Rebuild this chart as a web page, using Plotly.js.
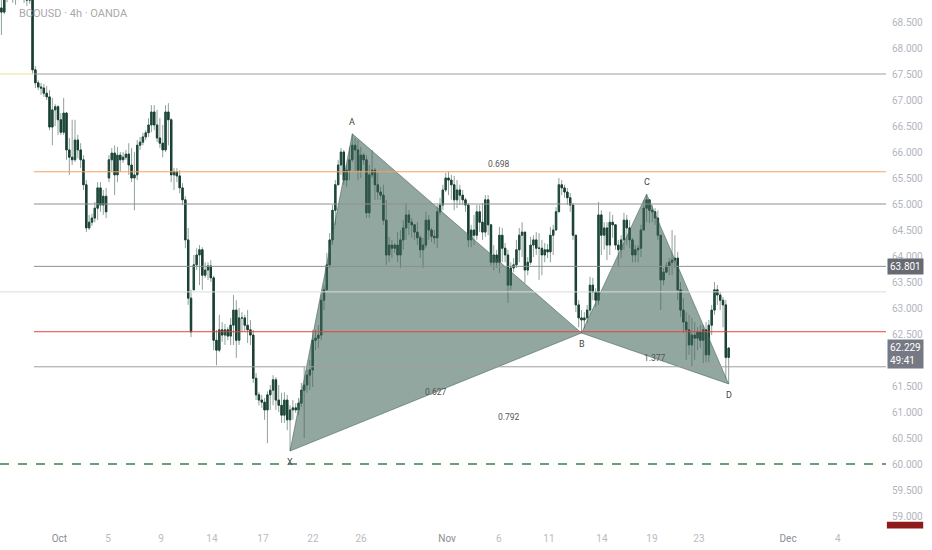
<!DOCTYPE html>
<html>
<head>
<meta charset="utf-8">
<script src="https://cdn.plot.ly/plotly-3.0.1.min.js"></script>
<style>html,body{margin:0;padding:0;background:#fff;}#chart{width:932px;height:550px;}</style>
</head>
<body>
<div id="chart"></div>
<script>
// ---- candle data (BCOUSD 4h), bar index = position on the time axis ----
const opens = [68.77,68.69,68.96,69.08,69.15,69.02,68.96,69.08,69.12,69.00,68.92,
69.02,67.58,67.33,67.25,67.23,67.13,67.06,66.48,66.81,66.87,
66.62,66.38,66.75,66.04,65.90,65.85,66.23,66.04,65.85,65.37,
64.54,64.65,64.73,64.92,65.31,64.98,65.15,65.50,65.85,65.98,
65.56,65.94,65.85,65.90,65.96,65.75,65.50,65.56,66.13,66.19,
66.29,66.37,66.52,66.77,66.52,66.27,66.17,66.04,66.77,66.62,
65.56,65.62,65.54,65.31,65.08,64.31,63.19,63.35,63.83,64.02,
64.12,63.63,63.73,63.81,63.58,62.38,62.19,62.58,62.48,62.58,
62.46,62.67,62.96,62.38,62.81,62.81,62.67,62.58,62.48,61.65,
61.33,61.23,61.19,61.04,61.33,61.42,61.62,61.23,61.13,60.94,
61.23,60.85,61.04,61.08,61.04,61.17,61.42,61.52,61.71,61.81,
62.38,62.42,62.48,63.15,63.35,63.83,64.31,64.88,65.37,65.75,
66.00,65.46,65.65,65.85,66.13,66.04,65.65,65.94,65.85,64.83,
65.56,65.65,65.37,65.23,65.17,64.69,64.02,64.21,64.15,64.21,
64.02,64.31,64.54,64.79,64.65,64.60,64.46,64.35,64.12,64.21,
64.69,64.50,64.38,64.35,64.85,64.98,65.27,65.50,65.46,65.37,
65.08,65.27,65.17,65.08,64.98,64.31,64.50,64.40,64.85,64.65,
64.46,65.08,64.60,63.88,64.02,63.88,64.40,64.15,64.02,63.44,
63.77,63.83,64.12,64.40,64.46,63.73,63.88,64.21,64.31,64.15,
64.15,64.02,64.12,64.08,64.40,64.50,64.85,65.37,65.31,65.23,
65.12,64.98,64.40,63.06,62.81,62.77,62.81,62.96,63.44,63.31,
63.15,64.79,64.40,64.54,64.21,64.65,64.60,64.21,64.12,64.31,
64.69,64.54,64.31,64.02,64.12,64.15,64.50,64.92,65.08,64.88,
64.85,64.73,64.40,63.54,63.69,63.81,63.88,63.92,63.96,63.35,
62.96,62.73,62.58,62.29,62.48,62.42,62.54,62.38,62.58,62.10,
62.67,62.96,63.35,63.25,63.15,63.06,62.05];
const highs = [69.02,69.02,69.21,69.31,69.27,69.12,69.21,69.31,69.19,69.12,69.15,
69.08,67.65,67.38,67.33,67.31,67.27,67.19,67.04,66.92,66.90,
66.75,67.04,66.77,66.27,66.62,66.62,66.33,66.17,65.94,65.46,
64.79,64.81,65.04,65.42,65.42,65.27,65.31,65.94,66.08,66.13,
66.10,66.00,66.00,66.04,66.17,66.08,66.00,66.23,66.29,66.37,
66.42,66.65,66.90,66.90,66.81,66.65,66.52,66.90,66.94,66.65,
65.69,65.69,65.65,65.40,65.15,64.54,63.35,64.02,64.15,64.21,
64.17,63.88,63.88,63.92,63.62,62.58,62.87,62.73,62.69,62.63,
62.81,63.25,63.15,63.00,62.92,62.87,62.96,62.77,62.58,61.75,
61.38,61.33,61.27,61.40,61.52,61.71,61.67,61.52,61.37,61.38,
61.33,61.13,61.23,61.17,61.27,61.56,61.87,61.81,62.00,62.58,
62.58,62.67,63.25,63.44,64.06,64.44,64.98,65.46,65.85,66.08,
66.04,65.75,66.10,66.35,66.27,66.23,66.10,65.98,65.94,65.75,
66.04,65.69,65.60,65.33,65.37,65.08,64.37,64.31,64.25,64.46,
64.50,64.69,65.02,64.88,64.73,64.60,64.65,64.40,64.35,64.85,
64.79,64.54,64.50,64.98,65.12,65.37,65.60,65.62,65.56,65.54,
65.46,65.37,65.27,65.12,65.02,64.60,64.79,64.98,64.98,65.02,
65.17,65.17,64.60,64.21,64.12,64.56,64.54,64.25,64.12,63.88,
63.96,64.31,64.54,64.65,64.46,63.98,64.37,64.40,64.46,64.44,
64.31,64.25,64.23,64.56,64.60,64.94,65.50,65.46,65.37,65.31,
65.21,65.02,64.40,63.15,62.96,62.92,63.06,63.60,63.58,63.38,
65.04,64.88,64.65,64.65,64.85,64.79,64.60,64.31,64.40,64.83,
64.79,64.69,64.35,64.21,64.21,64.60,65.08,65.19,65.08,64.98,
64.92,64.88,64.40,63.77,63.88,63.96,64.50,64.40,64.08,63.50,
63.19,62.92,62.87,62.81,62.73,62.63,62.67,62.67,62.73,62.77,
63.06,63.50,63.44,63.31,63.21,63.15,62.25];
const lows = [68.25,68.65,68.88,68.98,68.87,68.83,68.92,69.00,68.87,68.81,68.85,
67.48,67.23,67.19,67.10,67.06,67.00,66.42,66.13,66.50,66.33,
66.33,66.33,65.85,65.56,65.75,65.81,65.88,65.69,65.27,64.46,
64.50,64.58,64.65,64.69,64.85,64.79,64.73,65.42,65.62,65.17,
65.42,65.62,65.79,65.85,65.56,65.42,64.88,65.46,66.04,66.13,
66.23,66.29,66.38,66.42,66.19,66.08,65.90,66.00,66.13,65.42,
65.27,65.42,65.21,64.98,64.15,63.06,62.44,63.35,63.73,63.44,
63.35,63.58,63.54,63.50,62.19,61.90,62.15,62.35,62.29,62.38,
62.29,62.29,62.04,62.29,62.54,62.54,62.33,62.29,61.56,61.23,
61.13,61.08,60.85,60.40,61.04,61.13,61.04,61.00,60.79,60.79,
60.65,60.25,60.85,60.98,60.94,61.10,60.50,61.37,61.42,61.48,
62.19,62.23,62.38,62.96,63.35,63.77,64.21,64.60,65.37,65.56,
65.37,65.33,65.46,65.81,65.62,65.46,65.50,65.75,64.73,64.73,
65.50,65.08,65.08,65.08,64.60,63.83,63.88,63.96,64.06,63.88,
63.77,64.12,64.31,64.40,64.35,64.31,64.21,63.96,63.77,64.15,
64.31,64.27,64.23,64.15,64.79,64.88,65.23,65.17,65.08,64.88,
64.92,64.98,64.98,64.85,64.17,64.17,64.21,64.31,64.46,64.31,
64.37,64.40,63.79,63.73,63.77,63.67,63.88,63.88,63.10,63.35,
63.69,63.77,63.88,63.98,63.48,63.63,63.83,63.98,64.02,63.54,
63.63,63.88,63.96,63.88,64.02,64.50,64.85,65.17,65.12,64.98,
64.85,64.31,62.92,62.63,62.52,62.61,62.71,62.87,63.15,63.02,
63.06,64.02,64.12,63.92,64.02,64.35,64.12,63.79,63.96,64.12,
64.21,64.15,63.88,63.88,63.88,63.98,64.50,64.65,64.63,64.65,
64.60,64.31,62.96,63.44,63.69,63.63,63.63,63.77,63.15,62.83,
62.52,62.00,62.10,61.87,62.00,62.19,62.23,61.94,61.96,61.96,
62.48,62.87,63.06,62.96,62.63,61.65,61.54];
const closes = [68.69,68.96,69.08,69.15,69.02,68.96,69.08,69.12,69.00,68.92,69.02,
67.58,67.33,67.25,67.23,67.13,67.06,66.48,66.81,66.87,66.62,
66.38,66.75,66.04,65.90,65.85,66.23,66.04,65.85,65.37,64.54,
64.65,64.73,64.92,65.31,64.98,65.15,64.85,65.85,65.98,65.56,
65.94,65.85,65.90,65.96,65.75,65.50,65.56,66.13,66.19,66.29,
66.37,66.52,66.77,66.52,66.27,66.17,66.04,66.77,66.62,65.56,
65.62,65.54,65.31,65.08,64.31,63.19,62.54,63.83,64.02,64.12,
63.63,63.73,63.81,63.58,62.38,62.19,62.58,62.48,62.58,62.46,
62.67,62.96,62.38,62.81,62.81,62.67,62.58,62.48,61.65,61.33,
61.23,61.19,61.04,61.33,61.42,61.62,61.23,61.13,60.94,61.23,
60.85,61.04,61.08,61.04,61.17,61.42,61.52,61.71,61.81,62.38,
62.42,62.48,63.15,63.35,63.83,64.31,64.88,65.37,65.75,66.00,
65.46,65.65,65.85,66.13,66.04,65.65,65.94,65.85,64.83,65.56,
65.65,65.37,65.23,65.17,64.69,64.02,64.21,64.15,64.21,64.02,
64.31,64.54,64.79,64.65,64.60,64.46,64.35,64.12,64.21,64.69,
64.50,64.38,64.35,64.85,64.98,65.27,65.50,65.46,65.37,65.08,
65.27,65.17,65.08,64.98,64.31,64.50,64.40,64.85,64.65,64.46,
65.08,64.60,63.88,64.02,63.88,64.40,64.15,64.02,63.44,63.77,
63.83,64.12,64.40,64.46,63.73,63.88,64.21,64.31,64.15,64.15,
64.02,64.12,64.08,64.40,64.50,64.85,65.37,65.31,65.23,65.12,
64.98,64.40,63.06,62.81,62.77,62.81,62.96,63.44,63.31,63.15,
64.79,64.40,64.54,64.21,64.65,64.60,64.21,64.12,64.31,64.69,
64.54,64.31,64.02,64.12,64.15,64.50,64.92,65.08,64.88,64.85,
64.73,64.40,63.54,63.69,63.81,63.88,63.92,63.96,63.35,62.96,
62.73,62.58,62.29,62.48,62.42,62.54,62.38,62.58,62.10,62.67,
62.96,63.35,63.25,63.15,63.06,62.05,62.229];

// ---- time axis ticks (bar positions) ----
const tickPos = [20.5,37.7,56.4,74.4,92.4,110.1,127.1,157.5,175.8,193.5,212.2,229.9,246.5,278.0,295.6];
const tickLabels = ["Oct","5","9","14","17","22","26","Nov","6","11","14","19","23","Dec","4"];
const monthLabels = ["Oct","Nov","Dec"];

// ---- price axis ticks (62.000 is hidden behind the last-price label) ----
const priceTicks = [59.0,59.5,60.0,60.5,61.0,61.5,62.5,63.0,63.5,64.0,64.5,65.0,65.5,66.0,66.5,67.0,67.5,68.0,68.5];

// ---- XABCD harmonic pattern ----
const patternNames = ["X","A","B","C","D"];
const patternBar = [102,124,205,228,257];
const patternPrice = [60.25,66.35,62.52,65.19,61.54];
const ratioText = ["0.627","0.698","1.377","0.792"];
const ratioPairs = [[0,2],[1,3],[2,4],[0,4]];

// ---- horizontal levels ----
const levelPrices = [67.5,65.62,65.0,63.801,62.544,61.87];
const levelColors = ["#9e9e9e","#f5a25d","#8f8f8f","#8f8f8f","#e8423f","#9e9e9e"];
const levelStartBar = 11.5;
const fullLinePrice = 63.31;
const supportPrice = 60.0;
const lastPrice = 62.229;
const countdown = "49:41";
const markedPrice = 63.801;

const xs = closes.map((_, i) => i);
const xMax = 312.6;

const wickTrace = {
  type: "candlestick", x: xs, open: opens, high: highs, low: lows, close: closes,
  increasing: {line: {color: "#8fa19b", width: 1}, fillcolor: "#8fa19b"},
  decreasing: {line: {color: "#8fa19b", width: 1}, fillcolor: "#8fa19b"},
  hoverinfo: "skip", showlegend: false
};
const bodyTrace = {
  type: "candlestick", x: xs, open: opens, close: closes,
  high: opens.map((o, i) => Math.max(o, closes[i])),
  low: opens.map((o, i) => Math.min(o, closes[i])),
  increasing: {line: {color: "#1e4a3c", width: 1}, fillcolor: "#1e4a3c"},
  decreasing: {line: {color: "#183f33", width: 1}, fillcolor: "#183f33"},
  hoverinfo: "skip", showlegend: false
};

function tri(a, b, c) {
  return {
    type: "scatter", mode: "lines",
    x: [patternBar[a], patternBar[b], patternBar[c], patternBar[a]],
    y: [patternPrice[a], patternPrice[b], patternPrice[c], patternPrice[a]],
    fill: "toself", fillcolor: "rgba(62,98,88,0.56)",
    line: {color: "rgba(62,98,88,0.7)", width: 0.8},
    hoverinfo: "skip", showlegend: false
  };
}

const shapes = [];
levelPrices.forEach((p, i) => {
  shapes.push({type: "line", xref: "x", yref: "y", x0: levelStartBar, x1: xMax, y0: p, y1: p,
    line: {color: levelColors[i], width: 1}});
});
shapes.push({type: "line", xref: "x", yref: "y", x0: -0.5, x1: levelStartBar, y0: levelPrices[0], y1: levelPrices[0],
  line: {color: "#f2edb5", width: 1.5}});
shapes.push({type: "line", xref: "x", yref: "y", x0: -0.5, x1: xMax, y0: fullLinePrice, y1: fullLinePrice,
  line: {color: "#dcdcdc", width: 1}});
shapes.push({type: "line", xref: "x", yref: "y", x0: -0.5, x1: xMax, y0: supportPrice, y1: supportPrice,
  line: {color: "#3c7d45", width: 1.5, dash: "dash"}});
shapes.push({type: "rect", xref: "paper", yref: "paper", x0: 1.001, x1: 1.042, y0: -0.001, y1: 0.012,
  fillcolor: "#8e1b1b", line: {width: 0}});

const annotations = [];
annotations.push({xref: "paper", yref: "paper", x: 0.019, y: 0.9735, xanchor: "left", yanchor: "middle",
  text: "BCOUSD · 4h · OANDA", showarrow: false, font: {family: "Roboto", size: 11, color: "#a9a9a9"}});
patternNames.forEach((n, i) => {
  annotations.push({x: patternBar[i], y: patternPrice[i], text: n, showarrow: false,
    yshift: (i % 2 === 0) ? -11 : 12, font: {family: "Roboto", size: 9, color: "#444"}});
});
ratioText.forEach((t, k) => {
  const [a, b] = ratioPairs[k];
  annotations.push({x: (patternBar[a] + patternBar[b]) / 2, y: (patternPrice[a] + patternPrice[b]) / 2,
    text: t, showarrow: false, font: {family: "Roboto", size: 8.5, color: "#555"}});
});
annotations.push({xref: "paper", yref: "y", x: 1.001, y: markedPrice, xanchor: "left", yanchor: "middle",
  text: markedPrice.toFixed(3), showarrow: false, bgcolor: "#676a73", borderpad: 2,
  font: {family: "Roboto", size: 10, color: "#ffffff"}});
annotations.push({xref: "paper", yref: "y", x: 1.001, y: lastPrice, xanchor: "left", yanchor: "top", yshift: 9,
  text: lastPrice.toFixed(3) + "<br>" + countdown, showarrow: false, bgcolor: "#767983", borderpad: 2, align: "left",
  font: {family: "Roboto", size: 10, color: "#ffffff"}});

const ticktext = tickLabels.map(t => monthLabels.includes(t) ? '<span style="color:#8a8d96">' + t + '</span>' : t);

const layout = {
  width: 932, height: 550,
  margin: {l: 0, r: 46, t: 0, b: 22, pad: 0},
  paper_bgcolor: "#ffffff", plot_bgcolor: "#ffffff",
  font: {family: "Roboto", size: 10, color: "#b2b5be"},
  showlegend: false,
  xaxis: {range: [-0.5, xMax], showgrid: false, zeroline: false, showline: false,
    tickmode: "array", tickvals: tickPos, ticktext: ticktext, ticks: "", ticklabelstandoff: 3,
    tickfont: {family: "Roboto", size: 10, color: "#b8bbc2"}, rangeslider: {visible: false}, fixedrange: true},
  yaxis: {side: "right", range: [58.77, 68.923], showgrid: false, zeroline: false, showline: false,
    tickmode: "array", tickvals: priceTicks, ticktext: priceTicks.map(v => v.toFixed(3)),
    ticks: "", ticklabelstandoff: 5,
    tickfont: {family: "Roboto", size: 10, color: "#b2b5be"}, fixedrange: true},
  shapes: shapes, annotations: annotations
};

Plotly.newPlot("chart", [tri(0, 1, 2), tri(2, 3, 4), wickTrace, bodyTrace], layout, {displayModeBar: false, staticPlot: true});
</script>
</body>
</html>
